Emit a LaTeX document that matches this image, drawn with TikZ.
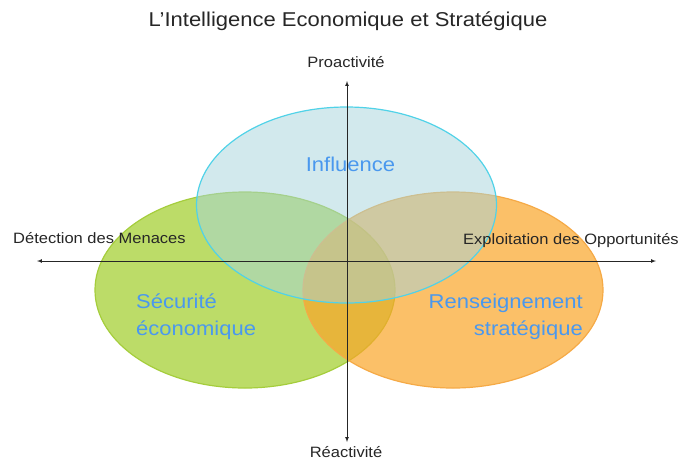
\documentclass[tikz,border=0pt]{standalone}
\usepackage{fontspec}
\setmainfont{Liberation Sans}
\usetikzlibrary{arrows}

\definecolor{greenfill}{RGB}{160,205,40}
\definecolor{greenline}{RGB}{165,205,60}
\definecolor{orangefill}{RGB}{250,165,40}
\definecolor{orangeline}{RGB}{245,170,70}
\definecolor{bluefill}{RGB}{165,212,220}
\definecolor{blueline}{RGB}{80,210,232}
\definecolor{zonetext}{RGB}{74,152,238}

\begin{document}
\begin{tikzpicture}[x=1pt,y=-1pt]
    \tikzstyle{zone}=[line width=1.2pt,fill opacity=0.7]
    \tikzstyle{axis}=[draw=black!85,line width=0.7pt,latex-latex]
    \tikzstyle{axtext}=[inner sep=0pt,xscale=1.1,text=black!85,font=\fontsize{15}{18}\selectfont]
    \tikzstyle{zonelabel}=[inner sep=0pt,xscale=1.1,text=zonetext,font=\fontsize{20}{27}\selectfont]

    \def\rx{150}
    \def\ry{98}

    \useasboundingbox (0,0) rectangle (693,459);

    % the three zones
    \draw[zone,draw=greenline,fill=greenfill] (245,290) ellipse ({\rx} and {\ry});
    \draw[zone,draw=orangeline,fill=orangefill] (453,290) ellipse ({\rx} and {\ry});
    \draw[zone,draw=blueline,fill=bluefill,fill opacity=0.5] (346.5,205) ellipse ({\rx} and {\ry});

    % texts
    \node[inner sep=0pt,xscale=1.1,anchor=base,text=black!85,font=\fontsize{20}{24}\selectfont]
        (title) at (348,26) {L’Intelligence Economique et Stratégique};

    \node[axtext,anchor=base] (pro) at (346,67) {Proactivité};
    \node[axtext,anchor=base] (rea) at (346,457) {Réactivité};
    \node[axtext,anchor=base west] (menace) at (13,243) {Détection des Menaces};
    \node[axtext,anchor=base east] (opport) at (679,244) {Exploitation des Opportunités};

    \node[zonelabel,anchor=base] (infl) at (350.5,171) {Influence};
    \node[zonelabel,anchor=base west,align=left] (secu) at (136,335) {Sécurité\\économique};
    \node[zonelabel,anchor=base east,align=right] (rens) at (583,335) {Renseignement\\stratégique};

    % axes
    \coordinate (top) at (347,81);
    \coordinate (bottom) at (347,442);
    \coordinate (left) at (37,261);
    \coordinate (right) at (656,261);

    \path[axis] (bottom) -- (top);
    \path[axis] (left) -- (right);
\end{tikzpicture}
\end{document}
